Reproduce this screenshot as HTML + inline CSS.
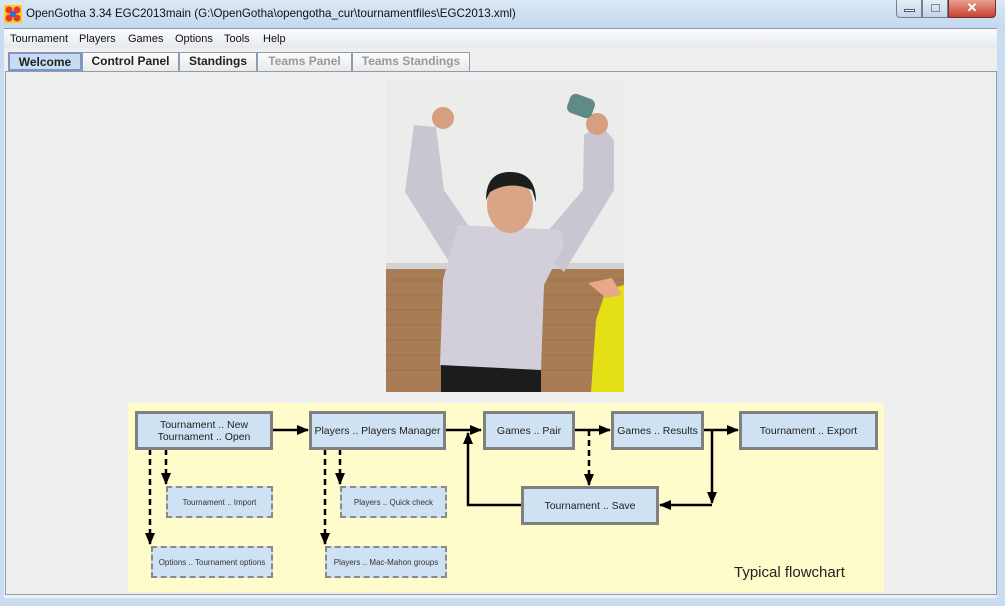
<!DOCTYPE html>
<html><head><style>
*{margin:0;padding:0;box-sizing:border-box}
body{width:1005px;height:606px;overflow:hidden;background:#c9dcf0;font-family:"Liberation Sans",sans-serif;position:relative}
.abs{position:absolute}
.title{left:0;top:0;width:1005px;height:28px;background:linear-gradient(#dbe8f6,#c5d8ee)}
.menu{left:4px;top:28px;width:993px;height:20px;background:linear-gradient(#fafbfc,#e6e9ee);border-top:1px solid #8a9bb0;font-size:11px;color:#111}
.menu span{position:absolute;top:4px}
.main{left:4px;top:48px;width:993px;height:550px;background:#efefef}
.tab{position:absolute;top:52px;height:19px;border:1px solid #8b9cb5;border-bottom:none;background:linear-gradient(#fdfdfd,#e9e9e9);font-size:12px;font-weight:bold;text-align:center;line-height:17px;color:#222}
.content{left:5px;top:71px;width:992px;height:524px;border:1px solid #8b9cb5;background:#efefef}
.box{position:absolute;background:#cfe2f3;border:3px solid #808080;font-size:10.5px;color:#222;display:flex;align-items:center;justify-content:center;text-align:center;line-height:12px;white-space:nowrap}
.dbox{position:absolute;background:#cfe2f3;border:2px dashed #8a8a8a;font-size:8px;color:#333;display:flex;align-items:center;justify-content:center;white-space:nowrap}
</style></head><body>
<div class="abs title"></div>
<svg class="abs" style="left:4px;top:5px" width="18" height="18"><rect width="18" height="18" fill="#f2d21a"/><circle cx="5" cy="5" r="3.5" fill="#e33"/><circle cx="13" cy="5" r="3.5" fill="#e33"/><circle cx="5" cy="13" r="3.5" fill="#e33"/><circle cx="13" cy="13" r="3.5" fill="#e33"/><circle cx="9" cy="9" r="3" fill="#2a6fd6"/></svg>
<div class="abs" style="left:26px;top:7px;font-size:11.6px;color:#111">OpenGotha 3.34 EGC2013main (G:\OpenGotha\opengotha_cur\tournamentfiles\EGC2013.xml)</div>
<div class="abs" style="left:896px;top:0;width:26px;height:18px;border:1px solid #6d7f99;border-top:none;border-radius:0 0 0 4px;background:linear-gradient(#e6eef8,#c4d4e8)"><div style="margin:9px 7px 0;width:11px;height:3px;background:#fff;border:1px solid #556"></div></div>
<div class="abs" style="left:922px;top:0;width:26px;height:18px;border:1px solid #6d7f99;border-top:none;background:linear-gradient(#e6eef8,#c4d4e8)"><div style="margin:4px 8px;width:9px;height:8px;border:1px solid #889"></div></div>
<div class="abs" style="left:948px;top:0;width:48px;height:18px;border:1px solid #6d3030;border-top:none;border-radius:0 0 4px 0;background:linear-gradient(#e8a090,#c94030);color:#fff;font-weight:bold;text-align:center;font-size:13px;line-height:16px">✕</div>
<div class="abs main"></div>
<div class="abs menu"><span style="left:6px">Tournament</span><span style="left:75px">Players</span><span style="left:124px">Games</span><span style="left:171px">Options</span><span style="left:220px">Tools</span><span style="left:259px">Help</span></div>
<div class="abs content"></div>
<div class="tab" style="left:8px;width:74px;background:#c7dcf2;border:2px solid #7d97bf">Welcome</div>
<div class="tab" style="left:82px;width:97px">Control Panel</div>
<div class="tab" style="left:179px;width:78px">Standings</div>
<div class="tab" style="left:257px;width:95px;color:#999">Teams Panel</div>
<div class="tab" style="left:352px;width:118px;color:#999">Teams Standings</div>

<svg class="abs" style="left:386px;top:80px" width="238" height="312">
<rect width="238" height="312" fill="#ececea"/>
<rect y="187" width="238" height="125" fill="#a87c55"/>
<g stroke="#946b46" stroke-width="1" opacity=".6"><line x1="0" y1="200" x2="238" y2="200"/><line x1="0" y1="215" x2="238" y2="215"/><line x1="0" y1="230" x2="238" y2="230"/><line x1="0" y1="245" x2="238" y2="245"/><line x1="0" y1="260" x2="238" y2="260"/><line x1="0" y1="275" x2="238" y2="275"/><line x1="0" y1="290" x2="238" y2="290"/></g>
<rect y="183" width="238" height="6" fill="#d0d2d2"/>
<polygon points="220,210 238,205 238,312 205,312 210,240" fill="#e4e015"/>
<polygon points="202,203 226,198 236,215 220,218" fill="#e8a88a"/>
<rect x="55" y="285" width="100" height="27" fill="#1c1c1c"/>
<polygon points="28,45 50,47 58,110 82,145 62,180 19,112" fill="#c9c6d2"/>
<polygon points="215,45 228,60 228,110 178,192 150,165 197,110 198,55" fill="#c9c6d2"/>
<polygon points="72,145 175,150 178,165 158,205 155,290 54,285 57,200" fill="#d2cfda"/>
<ellipse cx="124" cy="125" rx="23" ry="28" fill="#d9a585"/>
<path d="M100,120 Q100,92 124,92 Q150,92 150,122 L146,110 Q124,100 104,112 Z" fill="#1d1d1d"/>
<circle cx="57" cy="38" r="11" fill="#d59f80"/>
<circle cx="211" cy="44" r="11" fill="#d59f80"/>
<rect x="182" y="16" width="26" height="20" rx="6" fill="#5f8a86" transform="rotate(20 195 26)"/>
</svg>

<svg class="abs" style="left:128px;top:403px" width="756" height="189">
<defs><marker id="b" markerWidth="12" markerHeight="10" refX="11" refY="5" orient="auto" markerUnits="userSpaceOnUse"><path d="M0,0 L12,5 L0,10 Z" fill="#000"/></marker></defs>
<rect width="756" height="189" fill="#fffccb"/>
<g stroke="#000" stroke-width="2.5" fill="none">
<line x1="144" y1="27" x2="180" y2="27" marker-end="url(#b)"/>
<line x1="317" y1="27" x2="353" y2="27" marker-end="url(#b)"/>
<line x1="446" y1="27" x2="482" y2="27" marker-end="url(#b)"/>
<line x1="575" y1="27" x2="610" y2="27" marker-end="url(#b)"/>
<polyline points="393,102 340,102 340,30" marker-end="url(#b)"/>
<line x1="584" y1="27" x2="584" y2="100" marker-end="url(#b)"/>
<line x1="584" y1="102" x2="532" y2="102" marker-end="url(#b)"/>
<g stroke-dasharray="6,4">
<line x1="22" y1="46" x2="22" y2="141" marker-end="url(#b)"/>
<line x1="38" y1="46" x2="38" y2="81" marker-end="url(#b)"/>
<line x1="197" y1="46" x2="197" y2="141" marker-end="url(#b)"/>
<line x1="212" y1="46" x2="212" y2="81" marker-end="url(#b)"/>
<line x1="461" y1="27" x2="461" y2="82" marker-end="url(#b)"/>
</g></g>
<text x="606" y="174" font-size="15" fill="#222" font-family="Liberation Sans">Typical flowchart</text>
</svg>

<div class="box" style="left:135px;top:411px;width:138px;height:39px">Tournament .. New<br>Tournament .. Open</div>
<div class="box" style="left:309px;top:411px;width:137px;height:39px">Players .. Players Manager</div>
<div class="box" style="left:483px;top:411px;width:92px;height:39px">Games .. Pair</div>
<div class="box" style="left:611px;top:411px;width:93px;height:39px">Games .. Results</div>
<div class="box" style="left:739px;top:411px;width:139px;height:39px">Tournament .. Export</div>
<div class="box" style="left:521px;top:486px;width:138px;height:39px">Tournament .. Save</div>
<div class="dbox" style="left:166px;top:486px;width:107px;height:32px">Tournament .. Import</div>
<div class="dbox" style="left:151px;top:546px;width:122px;height:32px">Options .. Tournament options</div>
<div class="dbox" style="left:340px;top:486px;width:107px;height:32px">Players .. Quick check</div>
<div class="dbox" style="left:325px;top:546px;width:122px;height:32px">Players .. Mac-Mahon groups</div>
</body></html>
